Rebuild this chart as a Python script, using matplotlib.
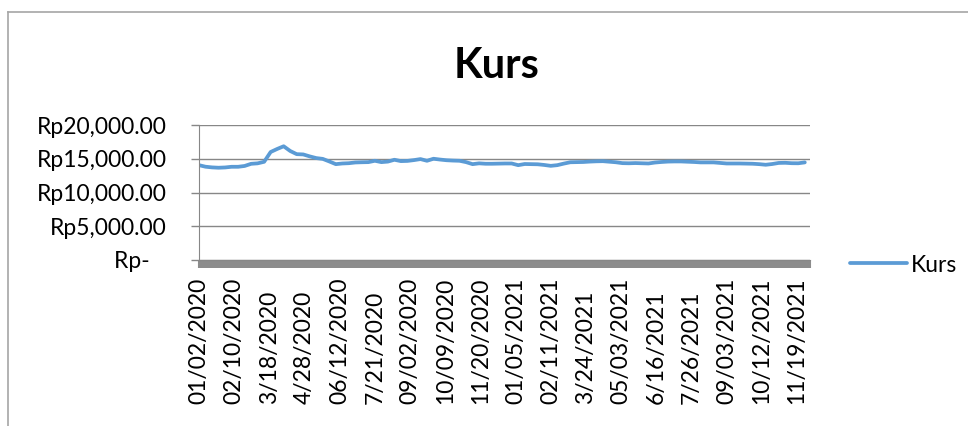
import numpy as np
import matplotlib
matplotlib.use("Agg")
from matplotlib import pyplot as plt
from matplotlib.lines import Line2D
from matplotlib.ticker import FuncFormatter

plt.rcParams['font.family'] = ['Lato', 'DejaVu Sans']

# exchange rate, one reading every 5 trading days
step = 5
n_days = 470
kurs = [14050, 13820, 13720, 13670, 13710, 13810, 13810, 13930, 14250, 14320,
        14550, 16000, 16450, 16850, 16150, 15680, 15640, 15350, 15100, 14980,
        14600, 14200, 14300, 14340, 14450, 14480, 14500, 14700, 14500, 14580,
        14850, 14650, 14680, 14800, 14950, 14700, 15000, 14880, 14780, 14730,
        14700, 14500, 14200, 14320, 14260, 14260, 14280, 14300, 14300, 14050,
        14220, 14200, 14180, 14080, 13950, 14050, 14280, 14480, 14500, 14520,
        14580, 14620, 14640, 14560, 14480, 14350, 14330, 14360, 14330, 14300,
        14440, 14520, 14580, 14600, 14600, 14560, 14520, 14460, 14460, 14460,
        14380, 14300, 14300, 14300, 14280, 14260, 14200, 14110, 14220, 14380,
        14400, 14340, 14330, 14460]

label_every = 27
date_labels = ['01/02/2020', '02/10/2020', '3/18/2020', '4/28/2020', '06/12/2020',
               '7/21/2020', '09/02/2020', '10/09/2020', '11/20/2020', '01/05/2021',
               '02/11/2021', '3/24/2021', '05/03/2021', '6/16/2021', '7/26/2021',
               '09/03/2021', '10/12/2021', '11/19/2021']

y_ticks = [0, 5000, 10000, 15000, 20000]

line_color = '#5B9BD5'
grid_color = '#878787'

fig = plt.figure(figsize=(9.68, 4.26), dpi=100)
ax = fig.add_axes([199/968, 1-260/426, 611/968, 135/426])

x = np.arange(len(kurs)) * step
ax.plot(x, kurs, color=line_color, linewidth=2.7, label='Kurs', solid_capstyle='round')

ax.set_xlim(0, n_days - 1)
ax.set_ylim(y_ticks[0], y_ticks[-1])
ax.set_yticks(y_ticks)
ax.yaxis.set_major_formatter(FuncFormatter(
    lambda v, p: 'Rp{:,.2f}'.format(v) if v else 'Rp-   '))
ax.grid(axis='y', color=grid_color, linewidth=1.0)
ax.set_axisbelow(True)

ax.set_xticks(np.arange(len(date_labels)) * label_every, date_labels,
              rotation=90, va='bottom', ha='center')
ax.set_xticks(np.arange(n_days), minor=True)
ax.tick_params(axis='x', which='both', direction='out', length=6, width=1.5,
               color='#8c8c8c', labelsize=16.5, pad=98)
ax.tick_params(axis='y', direction='out', length=6, width=1.0,
               color=grid_color, labelsize=16.5, pad=17)

for s in ['top', 'right']:
    ax.spines[s].set_visible(False)
ax.spines['left'].set_color(grid_color)
ax.spines['bottom'].set_color(grid_color)

fig.text(497/968, 1-66/426, 'Kurs', fontsize=30, fontweight='bold',
         ha='center', va='center')

fig.legend(loc='center left', bbox_to_anchor=(850/968, 1-265/426),
           frameon=False, fontsize=16.5, handlelength=2.5, handletextpad=0.15,
           borderpad=0, borderaxespad=0)

# chart border (only top and left show in the crop)
fig.add_artist(Line2D([8/968, 8/968], [0, 1-12/426], color='#a6a6a6', linewidth=1.2))
fig.add_artist(Line2D([8/968, 1], [1-12/426, 1-12/426], color='#a6a6a6', linewidth=1.2))

fig.savefig('out.png', dpi=100)
